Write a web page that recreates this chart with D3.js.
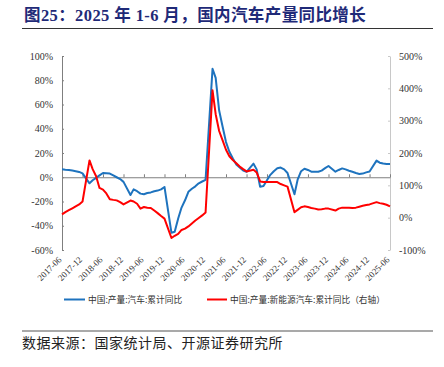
<!DOCTYPE html>
<html>
<head>
<meta charset="utf-8">
<script src="https://cdn.jsdelivr.net/npm/d3@7"></script>
<style>
  html, body { margin: 0; padding: 0; background: #fff; }
  svg { display: block; }
</style>
</head>
<body>
<svg id="chart" width="444" height="367"></svg>
<script>
const months = [
  "2017-06","2017-07","2017-08","2017-09","2017-10","2017-11","2017-12",
  "2018-02","2018-03","2018-04","2018-05","2018-06","2018-07","2018-08","2018-09","2018-10","2018-11","2018-12",
  "2019-02","2019-03","2019-04","2019-05","2019-06","2019-07","2019-08","2019-09","2019-10","2019-11","2019-12",
  "2020-02","2020-03","2020-04","2020-05","2020-06","2020-07","2020-08","2020-09","2020-10","2020-11","2020-12",
  "2021-02","2021-03","2021-04","2021-05","2021-06","2021-07","2021-08","2021-09","2021-10","2021-11","2021-12",
  "2022-02","2022-03","2022-04","2022-05","2022-06","2022-07","2022-08","2022-09","2022-10","2022-11","2022-12",
  "2023-02","2023-03","2023-04","2023-05","2023-06","2023-07","2023-08","2023-09","2023-10","2023-11","2023-12",
  "2024-02","2024-03","2024-04","2024-05","2024-06","2024-07","2024-08","2024-09","2024-10","2024-11","2024-12",
  "2025-02","2025-03","2025-04","2025-05","2025-06"
];
// 中国:产量:汽车:累计同比 (%)
const autoYoY = [
  6.5, 6.2, 6.0, 5.5, 5.0, 4.4, 3.2,
  -5.0, -2.5, -0.5, 1.5, 3.5, 3.3, 3.0, 1.5, 0.0, -1.5, -3.8,
  -14.7, -10.0, -11.5, -13.5, -14.0, -13.0, -12.5, -11.5, -11.0, -10.0, -8.0,
  -45.8, -45.0, -34.0, -25.0, -19.0, -12.0, -9.5, -7.5, -5.0, -3.5, -2.2,
  89.5, 82.0, 55.0, 42.0, 29.0, 21.0, 15.5, 10.5, 8.0, 5.5, 4.5,
  11.2, 6.5, -7.8, -7.2, -2.5, 2.0, 5.0, 7.5, 8.0, 6.5, 3.5,
  -14.0, -2.0, 5.0, 7.0, 6.0, 4.6, 4.5, 4.5, 5.5, 7.5, 9.3,
  4.6, 6.0, 7.3, 6.5, 5.4, 4.5, 3.5, 2.7, 3.0, 4.0, 4.8,
  13.7, 12.0, 11.3, 11.0, 10.9
];
// 中国:产量:新能源汽车:累计同比 (%, 右轴)
const nevYoY = [
  10, 17, 23, 29, 35, 41, 50,
  177, 150, 128, 92, 87, 75, 57, 55, 53.5, 48, 41,
  53, 50, 43, 28, 33, 31, 30, 22, 14, 5, -3,
  -63, -56, -50, -38, -34, -27, -18, -9, -1, 7, 16,
  394, 320, 268, 240, 210, 190, 178, 168, 158, 150, 143,
  148, 140, 112, 110, 110, 110, 110, 110, 104, 100, 96,
  17, 24, 32, 35, 33, 30, 28, 25, 26, 28, 28,
  22, 28, 31, 31, 31, 30, 31, 34, 37, 39, 41,
  48, 45, 43, 40, 35
];
const xTickLabels = ["2017-06","2017-12","2018-06","2018-12","2019-06","2019-12","2020-06","2020-12",
  "2021-06","2021-12","2022-06","2022-12","2023-06","2023-12","2024-06","2024-12","2025-06"];
const leftTicks = [100, 80, 60, 40, 20, 0, -20, -40, -60];
const rightTicks = [500, 400, 300, 200, 100, 0, -100];
const seriesNames = ["中国:产量:汽车:累计同比", "中国:产量:新能源汽车:累计同比（右轴）"];
const titleText = "图25：2025 年 1-6 月，国内汽车产量同比增长";
const sourceText = "数据来源：国家统计局、开源证券研究所";

const svg = d3.select("#chart");
const parse = d3.timeParse("%Y-%m");
const serif = "'Liberation Serif', 'Times New Roman', serif";
const cjk = "'Noto Sans CJK SC', 'Noto Sans', sans-serif";

const plotLeft = 62, plotRight = 390, plotTop = 56, plotBottom = 250;
const x = d3.scaleTime().domain([parse("2017-06"), parse("2025-06")]).range([plotLeft, plotRight]);
const yL = d3.scaleLinear().domain([-60, 100]).range([plotBottom, plotTop]);
const yR = d3.scaleLinear().domain([-100, 500]).range([plotBottom, plotTop]);

// Title
svg.append("text").attr("x", 24).attr("y", 21)
  .attr("font-family", "'Liberation Serif', 'Noto Sans CJK SC', serif")
  .attr("font-weight", "bold").attr("font-size", 16.5).attr("letter-spacing", 0.4).attr("fill", "#1F2A78")
  .text(titleText);
svg.append("line").attr("x1", 22).attr("x2", 433).attr("y1", 28.5).attr("y2", 28.5)
  .attr("stroke", "#333").attr("stroke-width", 1);

// Left axis
const gL = svg.append("g").attr("transform", `translate(${plotLeft},0)`)
  .call(d3.axisLeft(yL).tickValues(leftTicks).tickSizeInner(-2).tickSizeOuter(0).tickPadding(9)
    .tickFormat(d => d + "%"));
gL.select(".domain").attr("stroke", "#7f7f7f");
gL.selectAll(".tick line").attr("stroke", "#7f7f7f");
gL.selectAll("text").attr("font-family", serif).attr("font-size", 10).attr("fill", "#333");

// Right axis
const gR = svg.append("g").attr("transform", `translate(${plotRight},0)`)
  .call(d3.axisRight(yR).tickValues(rightTicks).tickSizeInner(-2).tickSizeOuter(0).tickPadding(9)
    .tickFormat(d => d + "%"));
gR.select(".domain").attr("stroke", "#c8c8c8");
gR.selectAll(".tick line").attr("stroke", "#c8c8c8");
gR.selectAll("text").attr("font-family", serif).attr("font-size", 10).attr("fill", "#333");

// Zero (category) axis
const y0 = yL(0);
const gX = svg.append("g").attr("transform", `translate(0,${y0})`)
  .call(d3.axisBottom(x).tickValues(xTickLabels.map(parse)).tickSizeInner(-3).tickSizeOuter(0).tickFormat(""));
gX.select(".domain").attr("stroke", "#7f7f7f");
gX.selectAll(".tick line").attr("stroke", "#7f7f7f");

// X labels at bottom
svg.append("g").selectAll("text").data(xTickLabels).join("text")
  .attr("transform", d => `translate(${x(parse(d)) - 2},${plotBottom + 8}) rotate(-45)`)
  .attr("text-anchor", "end").attr("dy", "0.35em")
  .attr("font-family", serif).attr("font-size", 9).attr("fill", "#333")
  .text(d => d);

// Lines
const dates = months.map(parse);
const lineL = d3.line().x((d, i) => x(dates[i])).y(d => yL(d));
const lineR = d3.line().x((d, i) => x(dates[i])).y(d => yR(d));
svg.append("path").datum(autoYoY).attr("d", lineL)
  .attr("fill", "none").attr("stroke", "#1E73BE").attr("stroke-width", 2).attr("stroke-linejoin", "round");
svg.append("path").datum(nevYoY).attr("d", lineR)
  .attr("fill", "none").attr("stroke", "#FF0000").attr("stroke-width", 2).attr("stroke-linejoin", "round");

// Legend
const legendY = 299.5;
const legend = [
  {x1: 64, x2: 85, tx: 88, color: "#1E73BE", name: seriesNames[0]},
  {x1: 207, x2: 227, tx: 230, color: "#FF0000", name: seriesNames[1]}
];
const lg = svg.append("g").selectAll("g").data(legend).join("g");
lg.append("line").attr("x1", d => d.x1).attr("x2", d => d.x2)
  .attr("y1", legendY).attr("y2", legendY).attr("stroke", d => d.color).attr("stroke-width", 2);
lg.append("text").attr("x", d => d.tx).attr("y", legendY).attr("dy", "0.35em")
  .attr("font-family", cjk).attr("font-size", 8.7).attr("fill", "#333")
  .text(d => d.name);

// Source
svg.append("line").attr("x1", 22).attr("x2", 433).attr("y1", 331).attr("y2", 331)
  .attr("stroke", "#8c8c8c").attr("stroke-width", 1.5);
svg.append("text").attr("x", 22).attr("y", 343).attr("dy", "0.35em")
  .attr("font-family", cjk).attr("font-size", 14).attr("letter-spacing", 0.5).attr("fill", "#222")
  .text(sourceText);
</script>
</body>
</html>
